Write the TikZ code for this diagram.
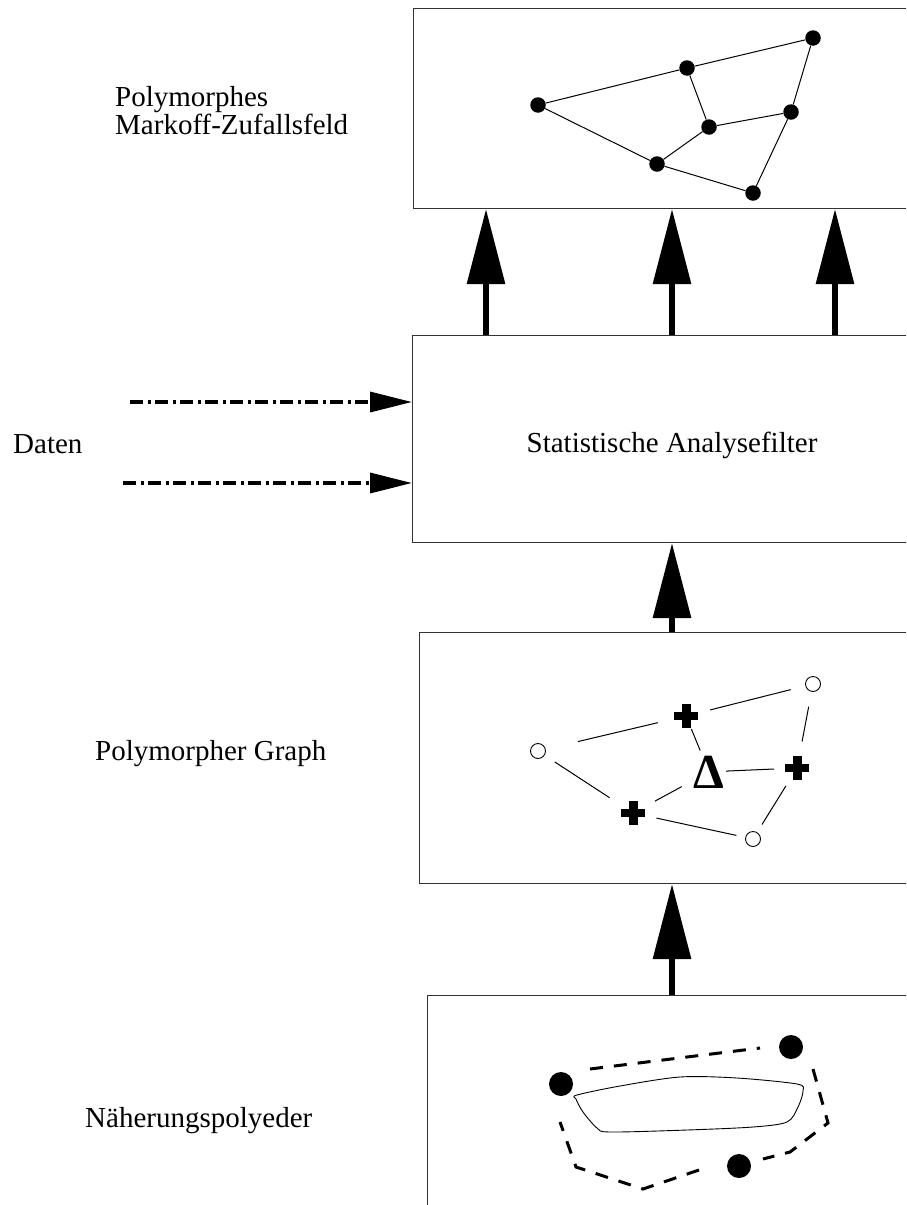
\documentclass[tikz,border=0pt]{standalone}
\usepackage{fontspec}
\setmainfont{Liberation Serif}
\usetikzlibrary{arrows.meta,calc}
\begin{document}
\begin{tikzpicture}[x=1pt,y=-1pt,
 panel/.style={draw=black!80, line width=1pt, rectangle, anchor=north west, inner sep=0pt, minimum width=600pt},
 lbl/.style={font=\fontsize{29}{29}\selectfont, inner sep=0pt, anchor=base west},
 dot/.style={circle, fill=black, minimum size=15.5pt, inner sep=0pt},
 bigdot/.style={circle, fill=black, minimum size=24pt, inner sep=0pt},
 ring/.style={circle, draw=black, line width=0.9pt, minimum size=15pt, inner sep=0pt},
 plusmark/.style={rectangle, minimum size=24pt, inner sep=0pt, path picture={
   \fill[black] ([yshift=-4pt]path picture bounding box.west) rectangle ([yshift=4pt]path picture bounding box.east);
   \fill[black] ([xshift=-4.5pt]path picture bounding box.north) rectangle ([xshift=4.5pt]path picture bounding box.south);}},
 edgeline/.style={line width=1pt},
 bigarrow/.style={line width=6pt, -{Triangle[length=75pt,width=37pt]}},
 dataarrow/.style={line width=3.2pt, dash pattern=on 13pt off 4.5pt on 3pt off 4.5pt, -{Triangle[length=42pt,width=20pt]}},
 polyline/.style={line width=3pt, dash pattern=on 13pt off 11pt},
]
\useasboundingbox (0,0) rectangle (906,1205);
\clip (0,0) rectangle (906,1205);

% panels
\node[panel, minimum height=200pt] (box1) at (413,8) {};
\node[panel, minimum height=207pt] (box2) at (412,335) {};
\node[panel, minimum height=251pt] (box3) at (419,632) {};
\node[panel, minimum height=300pt] (box4) at (427,995) {};

% labels
\node[lbl] (lblA) at (115,106) {Polymorphes};
\node[lbl] (lblB) at (115,134) {Markoff-Zufallsfeld};
\node[lbl] (lblC) at (13,453) {Daten};
\node[lbl, anchor=base] (lblD) at (672,452) {Statistische Analysefilter};
\node[lbl] (lblE) at (95,760) {Polymorpher Graph};
\node[lbl] (lblF) at (85,1127) {Näherungspolyeder};

% top graph
\node[dot] (a1) at (538,105) {};
\node[dot] (b1) at (687,68) {};
\node[dot] (c1) at (813,38) {};
\node[dot] (d1) at (709,127) {};
\node[dot] (e1) at (791,112) {};
\node[dot] (f1) at (657,164) {};
\node[dot] (g1) at (753,193) {};
\draw[edgeline] (a1) -- (b1);
\draw[edgeline] (b1) -- (c1);
\draw[edgeline] (b1) -- (d1);
\draw[edgeline] (d1) -- (e1);
\draw[edgeline] (c1) -- (e1);
\draw[edgeline] (a1) -- (f1);
\draw[edgeline] (f1) -- (d1);
\draw[edgeline] (f1) -- (g1);
\draw[edgeline] (g1) -- (e1);

% big arrows
\draw[bigarrow] ([xshift=74pt]box2.north west) -- ([xshift=73pt]box1.south west);
\draw[bigarrow] ([xshift=260pt]box2.north west) -- ([xshift=259pt]box1.south west);
\draw[bigarrow] ([xshift=423pt]box2.north west) -- ([xshift=422pt]box1.south west);
\draw[bigarrow] ([xshift=253pt]box3.north west) -- ([xshift=260pt]box2.south west);
\draw[bigarrow] ([xshift=245pt]box4.north west) -- ([xshift=253pt]box3.south west);

% data arrows
\coordinate (src1) at (130,402);
\coordinate (src2) at (123,483);
\draw[dataarrow] (src1) -- ([yshift=-67pt]box2.north west);
\draw[dataarrow] (src2) -- ([yshift=-148pt]box2.north west);

% polymorph graph
\node[ring] (a3) at (538,751) {};
\node[plusmark] (b3) at (686,716) {};
\node[ring] (c3) at (813,684) {};
\node[font=\fontsize{49}{49}\selectfont\bfseries, inner sep=0pt, anchor=base] (d3) at (709,788) {Δ};
\node[plusmark] (e3) at (797,768) {};
\node[plusmark] (f3) at (633,813) {};
\node[ring] (g3) at (753,839) {};
\draw[edgeline, shorten <=41pt, shorten >=29pt] (a3.center) -- (b3.center);
\draw[edgeline, shorten <=25pt, shorten >=23pt] (b3.center) -- (c3.center);
\draw[edgeline, shorten <=14pt, shorten >=23pt] (b3.center) -- (d3.center);
\draw[edgeline, shorten <=23pt, shorten >=27pt] (c3.center) -- (e3.center);
\draw[edgeline, shorten <=20pt, shorten >=28pt] (a3.center) -- (f3.center);
\draw[edgeline, shorten <=25pt, shorten >=31pt] (f3.center) -- (d3.center);
\draw[edgeline, shorten <=17pt, shorten >=23pt] (d3.center) -- (e3.center);
\draw[edgeline, shorten <=21pt, shorten >=17pt] (e3.center) -- (g3.center);
\draw[edgeline, shorten <=24pt, shorten >=17pt] (f3.center) -- (g3.center);

% approximation polyhedron
\node[bigdot] (p1) at (561,1084) {};
\node[bigdot] (p2) at (791,1047) {};
\node[bigdot] (p3) at (739,1166) {};
\coordinate (q1) at (590,1069);
\coordinate (q2) at (760,1048);
\coordinate (q3) at (813,1069);
\coordinate (q4) at (828,1123);
\coordinate (q5) at (790,1152);
\coordinate (q6) at (763,1159);
\coordinate (q7) at (699,1170);
\coordinate (q8) at (643,1189);
\coordinate (q9) at (576,1167);
\coordinate (q10) at (560,1122);
\draw[polyline] (q1) -- (q2);
\draw[polyline] (q3) -- (q4) -- (q5) -- (q6);
\draw[polyline] (q7) -- (q8) -- (q9) -- (q10);
\draw[line width=0.9pt] plot[smooth cycle, tension=0.5] coordinates {
 (577,1095) (620,1086) (680,1077) (737,1078) (797,1084) (803,1091)
 (798,1107) (787,1122) (753,1127) (687,1130) (610,1132) (597,1128)
 (583,1112) (576,1099)};
\end{tikzpicture}
\end{document}
